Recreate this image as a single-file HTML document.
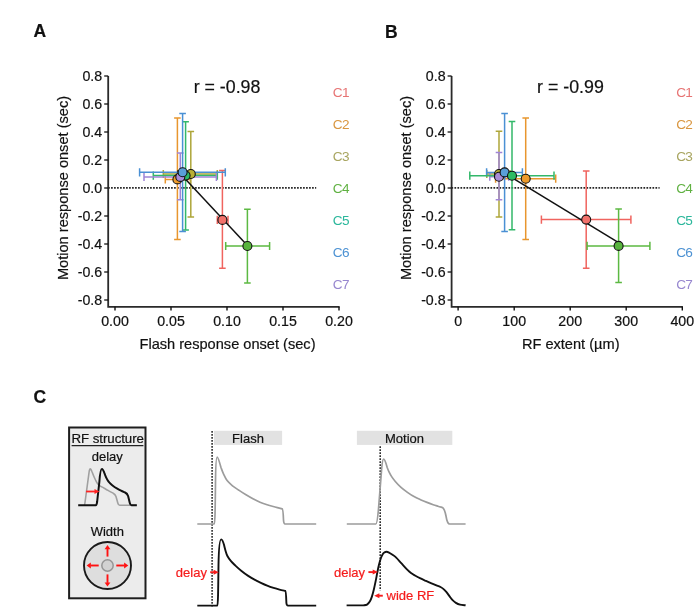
<!DOCTYPE html>
<html><head><meta charset="utf-8"><title>Figure</title><style>html,body{margin:0;padding:0;background:#fff;}svg{display:block;filter:blur(0.25px);}</style></head><body>
<svg width="700" height="613" viewBox="0 0 700 613">
<rect width="700" height="613" fill="#fff"/>
<g font-family='"Liberation Sans", sans-serif' fill="#111">
<text x="33.6" y="37.4" font-size="17.5" font-weight="bold" stroke="#111" stroke-width="0.2">A</text>
<text x="385" y="37.6" font-size="17.5" font-weight="bold" stroke="#111" stroke-width="0.2">B</text>
<text x="33.6" y="402.6" font-size="17.5" font-weight="bold" stroke="#111" stroke-width="0.2">C</text>
<path d="M108.2 76 V306.8 H339.6" fill="none" stroke="#2a2a2a" stroke-width="1.8"/>
<line x1="104.2" y1="76" x2="108.2" y2="76" stroke="#111" stroke-width="1.3"/>
<text x="102.2" y="81.3" text-anchor="end" font-size="14.2" stroke="#111" stroke-width="0.2">0.8</text>
<line x1="104.2" y1="104" x2="108.2" y2="104" stroke="#111" stroke-width="1.3"/>
<text x="102.2" y="109.3" text-anchor="end" font-size="14.2" stroke="#111" stroke-width="0.2">0.6</text>
<line x1="104.2" y1="132" x2="108.2" y2="132" stroke="#111" stroke-width="1.3"/>
<text x="102.2" y="137.3" text-anchor="end" font-size="14.2" stroke="#111" stroke-width="0.2">0.4</text>
<line x1="104.2" y1="160" x2="108.2" y2="160" stroke="#111" stroke-width="1.3"/>
<text x="102.2" y="165.3" text-anchor="end" font-size="14.2" stroke="#111" stroke-width="0.2">0.2</text>
<line x1="104.2" y1="188" x2="108.2" y2="188" stroke="#111" stroke-width="1.3"/>
<text x="102.2" y="193.3" text-anchor="end" font-size="14.2" stroke="#111" stroke-width="0.2">0.0</text>
<line x1="104.2" y1="216" x2="108.2" y2="216" stroke="#111" stroke-width="1.3"/>
<text x="102.2" y="221.3" text-anchor="end" font-size="14.2" stroke="#111" stroke-width="0.2">-0.2</text>
<line x1="104.2" y1="244" x2="108.2" y2="244" stroke="#111" stroke-width="1.3"/>
<text x="102.2" y="249.3" text-anchor="end" font-size="14.2" stroke="#111" stroke-width="0.2">-0.4</text>
<line x1="104.2" y1="272" x2="108.2" y2="272" stroke="#111" stroke-width="1.3"/>
<text x="102.2" y="277.3" text-anchor="end" font-size="14.2" stroke="#111" stroke-width="0.2">-0.6</text>
<line x1="104.2" y1="300" x2="108.2" y2="300" stroke="#111" stroke-width="1.3"/>
<text x="102.2" y="305.3" text-anchor="end" font-size="14.2" stroke="#111" stroke-width="0.2">-0.8</text>
<line x1="115" y1="306.8" x2="115" y2="310.5" stroke="#111" stroke-width="1.4"/>
<text x="115" y="325.8" text-anchor="middle" font-size="14.2" stroke="#111" stroke-width="0.2">0.00</text>
<line x1="171" y1="306.8" x2="171" y2="310.5" stroke="#111" stroke-width="1.4"/>
<text x="171" y="325.8" text-anchor="middle" font-size="14.2" stroke="#111" stroke-width="0.2">0.05</text>
<line x1="227" y1="306.8" x2="227" y2="310.5" stroke="#111" stroke-width="1.4"/>
<text x="227" y="325.8" text-anchor="middle" font-size="14.2" stroke="#111" stroke-width="0.2">0.10</text>
<line x1="283" y1="306.8" x2="283" y2="310.5" stroke="#111" stroke-width="1.4"/>
<text x="283" y="325.8" text-anchor="middle" font-size="14.2" stroke="#111" stroke-width="0.2">0.15</text>
<line x1="339" y1="306.8" x2="339" y2="310.5" stroke="#111" stroke-width="1.4"/>
<text x="339" y="325.8" text-anchor="middle" font-size="14.2" stroke="#111" stroke-width="0.2">0.20</text>
<line x1="108.05" y1="187.9" x2="316.2" y2="187.9" stroke="#262626" stroke-width="1.6" stroke-dasharray="1.7 1.3"/>
<text transform="translate(67.80000000000001 188) rotate(-90)" text-anchor="middle" font-size="14.6" stroke="#111" stroke-width="0.2">Motion response onset (sec)</text>
<text x="227.5" y="349.2" text-anchor="middle" font-size="14.6" stroke="#111" stroke-width="0.2">Flash response onset (sec)</text>
<text x="193.7" y="92.9" font-size="17.8" stroke="#111" stroke-width="0.2">r = -0.98</text>
<text x="332.8" y="96.90" font-size="13.6" fill="#e77474" letter-spacing="-0.7" stroke="#e77474" stroke-width="0.0">C1</text>
<text x="332.8" y="128.95" font-size="13.6" fill="#d99640" letter-spacing="-0.7" stroke="#d99640" stroke-width="0.0">C2</text>
<text x="332.8" y="161.00" font-size="13.6" fill="#a8a560" letter-spacing="-0.7" stroke="#a8a560" stroke-width="0.0">C3</text>
<text x="332.8" y="193.05" font-size="13.6" fill="#60b142" letter-spacing="-0.7" stroke="#60b142" stroke-width="0.0">C4</text>
<text x="332.8" y="225.10" font-size="13.6" fill="#2bb79b" letter-spacing="-0.7" stroke="#2bb79b" stroke-width="0.0">C5</text>
<text x="332.8" y="257.15" font-size="13.6" fill="#4d92d3" letter-spacing="-0.7" stroke="#4d92d3" stroke-width="0.0">C6</text>
<text x="332.8" y="289.20" font-size="13.6" fill="#9787cf" letter-spacing="-0.7" stroke="#9787cf" stroke-width="0.0">C7</text>
<path d="M451.6 76 V306.8 H682.9" fill="none" stroke="#2a2a2a" stroke-width="1.8"/>
<line x1="447.6" y1="76" x2="451.6" y2="76" stroke="#111" stroke-width="1.3"/>
<text x="445.6" y="81.3" text-anchor="end" font-size="14.2" stroke="#111" stroke-width="0.2">0.8</text>
<line x1="447.6" y1="104" x2="451.6" y2="104" stroke="#111" stroke-width="1.3"/>
<text x="445.6" y="109.3" text-anchor="end" font-size="14.2" stroke="#111" stroke-width="0.2">0.6</text>
<line x1="447.6" y1="132" x2="451.6" y2="132" stroke="#111" stroke-width="1.3"/>
<text x="445.6" y="137.3" text-anchor="end" font-size="14.2" stroke="#111" stroke-width="0.2">0.4</text>
<line x1="447.6" y1="160" x2="451.6" y2="160" stroke="#111" stroke-width="1.3"/>
<text x="445.6" y="165.3" text-anchor="end" font-size="14.2" stroke="#111" stroke-width="0.2">0.2</text>
<line x1="447.6" y1="188" x2="451.6" y2="188" stroke="#111" stroke-width="1.3"/>
<text x="445.6" y="193.3" text-anchor="end" font-size="14.2" stroke="#111" stroke-width="0.2">0.0</text>
<line x1="447.6" y1="216" x2="451.6" y2="216" stroke="#111" stroke-width="1.3"/>
<text x="445.6" y="221.3" text-anchor="end" font-size="14.2" stroke="#111" stroke-width="0.2">-0.2</text>
<line x1="447.6" y1="244" x2="451.6" y2="244" stroke="#111" stroke-width="1.3"/>
<text x="445.6" y="249.3" text-anchor="end" font-size="14.2" stroke="#111" stroke-width="0.2">-0.4</text>
<line x1="447.6" y1="272" x2="451.6" y2="272" stroke="#111" stroke-width="1.3"/>
<text x="445.6" y="277.3" text-anchor="end" font-size="14.2" stroke="#111" stroke-width="0.2">-0.6</text>
<line x1="447.6" y1="300" x2="451.6" y2="300" stroke="#111" stroke-width="1.3"/>
<text x="445.6" y="305.3" text-anchor="end" font-size="14.2" stroke="#111" stroke-width="0.2">-0.8</text>
<line x1="458.1" y1="306.8" x2="458.1" y2="310.5" stroke="#111" stroke-width="1.4"/>
<text x="458.1" y="325.8" text-anchor="middle" font-size="14.2" stroke="#111" stroke-width="0.2">0</text>
<line x1="514.2" y1="306.8" x2="514.2" y2="310.5" stroke="#111" stroke-width="1.4"/>
<text x="514.2" y="325.8" text-anchor="middle" font-size="14.2" stroke="#111" stroke-width="0.2">100</text>
<line x1="570.2" y1="306.8" x2="570.2" y2="310.5" stroke="#111" stroke-width="1.4"/>
<text x="570.2" y="325.8" text-anchor="middle" font-size="14.2" stroke="#111" stroke-width="0.2">200</text>
<line x1="626.2" y1="306.8" x2="626.2" y2="310.5" stroke="#111" stroke-width="1.4"/>
<text x="626.2" y="325.8" text-anchor="middle" font-size="14.2" stroke="#111" stroke-width="0.2">300</text>
<line x1="682.3" y1="306.8" x2="682.3" y2="310.5" stroke="#111" stroke-width="1.4"/>
<text x="682.3" y="325.8" text-anchor="middle" font-size="14.2" stroke="#111" stroke-width="0.2">400</text>
<line x1="451.45000000000005" y1="187.9" x2="659.6" y2="187.9" stroke="#262626" stroke-width="1.6" stroke-dasharray="1.7 1.3"/>
<text transform="translate(411.20000000000005 188) rotate(-90)" text-anchor="middle" font-size="14.6" stroke="#111" stroke-width="0.2">Motion response onset (sec)</text>
<text x="570.7" y="349.2" text-anchor="middle" font-size="14.6" stroke="#111" stroke-width="0.2">RF extent (µm)</text>
<text x="537.1" y="92.9" font-size="17.8" stroke="#111" stroke-width="0.2">r = -0.99</text>
<text x="676.2" y="96.90" font-size="13.6" fill="#e77474" letter-spacing="-0.7" stroke="#e77474" stroke-width="0.0">C1</text>
<text x="676.2" y="128.95" font-size="13.6" fill="#d99640" letter-spacing="-0.7" stroke="#d99640" stroke-width="0.0">C2</text>
<text x="676.2" y="161.00" font-size="13.6" fill="#a8a560" letter-spacing="-0.7" stroke="#a8a560" stroke-width="0.0">C3</text>
<text x="676.2" y="193.05" font-size="13.6" fill="#60b142" letter-spacing="-0.7" stroke="#60b142" stroke-width="0.0">C4</text>
<text x="676.2" y="225.10" font-size="13.6" fill="#2bb79b" letter-spacing="-0.7" stroke="#2bb79b" stroke-width="0.0">C5</text>
<text x="676.2" y="257.15" font-size="13.6" fill="#4d92d3" letter-spacing="-0.7" stroke="#4d92d3" stroke-width="0.0">C6</text>
<text x="676.2" y="289.20" font-size="13.6" fill="#9787cf" letter-spacing="-0.7" stroke="#9787cf" stroke-width="0.0">C7</text>
<path d="M222.4 170.5 V268.3 M219.1 170.5 H225.70000000000002 M219.1 268.3 H225.70000000000002 M217.3 219.9 H228.0 M217.3 215.8 V224.0 M228.0 215.8 V224.0" fill="none" stroke="#f0645f" stroke-width="1.5"/>
<path d="M177.4 118.0 V239.6 M174.1 118.0 H180.70000000000002 M174.1 239.6 H180.70000000000002 M165.3 179.4 H190.4 M165.3 175.3 V183.5 M190.4 175.3 V183.5" fill="none" stroke="#e8962e" stroke-width="1.5"/>
<path d="M190.8 131.5 V217.1 M187.5 131.5 H194.10000000000002 M187.5 217.1 H194.10000000000002 M163.3 174.0 H217.3 M163.3 169.9 V178.1 M217.3 169.9 V178.1" fill="none" stroke="#aea63a" stroke-width="1.5"/>
<path d="M247.4 209.3 V283.1 M244.1 209.3 H250.70000000000002 M244.1 283.1 H250.70000000000002 M225.7 246.0 H269.6 M225.7 241.9 V250.1 M269.6 241.9 V250.1" fill="none" stroke="#5cb942" stroke-width="1.5"/>
<path d="M185.6 121.7 V229.9 M182.29999999999998 121.7 H188.9 M182.29999999999998 229.9 H188.9 M153.3 175.6 H217.3 M153.3 171.5 V179.7 M217.3 171.5 V179.7" fill="none" stroke="#33b86a" stroke-width="1.5"/>
<path d="M180.3 153.0 V199.8 M177.0 153.0 H183.60000000000002 M177.0 199.8 H183.60000000000002 M144.0 176.9 H216.4 M144.0 172.8 V181.0 M216.4 172.8 V181.0" fill="none" stroke="#a085d6" stroke-width="1.5"/>
<path d="M182.6 113.6 V231.5 M179.29999999999998 113.6 H185.9 M179.29999999999998 231.5 H185.9 M139.6 172.3 H225.3 M139.6 168.20000000000002 V176.4 M225.3 168.20000000000002 V176.4" fill="none" stroke="#4a90d4" stroke-width="1.5"/>
<polyline points="177.4,170.6 247.4,245.5" fill="none" stroke="#111" stroke-width="1.5"/>
<circle cx="222.4" cy="219.9" r="4.5" fill="#f2716b" stroke="#111" stroke-width="1.1"/>
<circle cx="177.4" cy="179.4" r="4.5" fill="#ec9a2a" stroke="#111" stroke-width="1.1"/>
<circle cx="190.8" cy="174.0" r="4.5" fill="#b8af35" stroke="#111" stroke-width="1.1"/>
<circle cx="247.4" cy="246.0" r="4.5" fill="#58b43e" stroke="#111" stroke-width="1.1"/>
<circle cx="185.6" cy="175.6" r="4.5" fill="#2dbb63" stroke="#111" stroke-width="1.1"/>
<circle cx="180.3" cy="176.9" r="4.5" fill="#a98cd8" stroke="#111" stroke-width="1.1"/>
<circle cx="182.6" cy="172.3" r="4.5" fill="#5a9fd8" stroke="#111" stroke-width="1.1"/>
<path d="M586.2 171.0 V268.3 M582.9000000000001 171.0 H589.5 M582.9000000000001 268.3 H589.5 M541.4 219.6 H630.9 M541.4 215.5 V223.7 M630.9 215.5 V223.7" fill="none" stroke="#f0645f" stroke-width="1.5"/>
<path d="M525.7 117.9 V239.5 M522.4000000000001 117.9 H529.0 M522.4000000000001 239.5 H529.0 M495.6 178.7 H555.7 M495.6 174.6 V182.79999999999998 M555.7 174.6 V182.79999999999998" fill="none" stroke="#e8962e" stroke-width="1.5"/>
<path d="M499.0 131.3 V217.0 M495.7 131.3 H502.3 M495.7 217.0 H502.3 M486.8 174.0 H510.0 M486.8 169.9 V178.1 M510.0 169.9 V178.1" fill="none" stroke="#aea63a" stroke-width="1.5"/>
<path d="M618.6 208.9 V282.4 M615.3000000000001 208.9 H621.9 M615.3000000000001 282.4 H621.9 M587.1 245.9 H649.9 M587.1 241.8 V250.0 M649.9 241.8 V250.0" fill="none" stroke="#5cb942" stroke-width="1.5"/>
<path d="M499.0 152.6 V199.8 M495.7 152.6 H502.3 M495.7 199.8 H502.3 M489.8 176.7 H508.7 M489.8 172.6 V180.79999999999998 M508.7 172.6 V180.79999999999998" fill="none" stroke="#a085d6" stroke-width="1.5"/>
<path d="M504.6 113.5 V231.5 M501.3 113.5 H507.90000000000003 M501.3 231.5 H507.90000000000003 M486.6 172.4 H522.4 M486.6 168.3 V176.5 M522.4 168.3 V176.5" fill="none" stroke="#4a90d4" stroke-width="1.5"/>
<path d="M512.0 121.5 V229.7 M508.7 121.5 H515.3 M508.7 229.7 H515.3 M469.8 175.7 H554.0 M469.8 171.6 V179.79999999999998 M554.0 171.6 V179.79999999999998" fill="none" stroke="#33b86a" stroke-width="1.5"/>
<polyline points="499.0,169.7 618.6,242.6" fill="none" stroke="#111" stroke-width="1.5"/>
<circle cx="586.2" cy="219.6" r="4.5" fill="#f2716b" stroke="#111" stroke-width="1.1"/>
<circle cx="525.7" cy="178.7" r="4.5" fill="#ec9a2a" stroke="#111" stroke-width="1.1"/>
<circle cx="499.0" cy="174.0" r="4.5" fill="#b8af35" stroke="#111" stroke-width="1.1"/>
<circle cx="618.6" cy="245.9" r="4.5" fill="#58b43e" stroke="#111" stroke-width="1.1"/>
<circle cx="499.0" cy="176.7" r="4.5" fill="#a98cd8" stroke="#111" stroke-width="1.1"/>
<circle cx="504.6" cy="172.4" r="4.5" fill="#5a9fd8" stroke="#111" stroke-width="1.1"/>
<circle cx="512.0" cy="175.7" r="4.5" fill="#2dbb63" stroke="#111" stroke-width="1.1"/>
<rect x="69.1" y="427.5" width="76.4" height="170.8" fill="#ececec" stroke="#1e1e1e" stroke-width="2"/>
<text x="71.4" y="442.9" font-size="13.3" letter-spacing="-0.05" stroke="#111" stroke-width="0.2">RF structure</text>
<line x1="71.6" y1="445.6" x2="143.4" y2="445.6" stroke="#222" stroke-width="1.3"/>
<text x="107.3" y="460.8" font-size="13" text-anchor="middle" stroke="#111" stroke-width="0.2">delay</text>
<path d="M84 505.2 C84.6 505.2 84.8 504 85 502.5 L89.1 472 C89.4 469.8 89.8 468.9 90.3 468.9 C90.9 468.9 91.3 469.8 91.8 471.2 C92.10 471.97 92.98 474.33 93.60 475.80 C94.22 477.27 94.88 478.77 95.50 480.00 C96.12 481.23 96.55 482.23 97.30 483.20 C98.05 484.17 99.07 485.10 100.00 485.80 C100.93 486.50 101.57 486.63 102.90 487.40 C104.23 488.17 106.28 489.43 108.00 490.40 C109.72 491.37 112.33 492.73 113.20 493.20 C114.6 493.9 115.4 494.8 116 496.5 L117.8 503 C118.2 504.6 118.7 505.2 119.6 505.2 H137" fill="none" stroke="#a0a0a0" stroke-width="1.6"/>
<path d="M78.2 505.2 H95.8 C96.5 505.2 96.8 504 97.1 502 L99.4 481.5 C100 473 100.8 468.9 101.9 468.9 C102.9 468.9 103.8 471.2 104.8 474.2 C105.10 474.90 106.00 477.20 106.60 478.40 C107.20 479.60 107.78 480.55 108.40 481.40 C109.02 482.25 109.45 482.70 110.30 483.50 C111.15 484.30 112.42 485.40 113.50 486.20 C114.58 487.00 115.55 487.57 116.80 488.30 C118.05 489.03 119.62 489.90 121.00 490.60 C122.38 491.30 124.42 492.18 125.10 492.50 C126.6 493.2 127.5 494.2 128.1 496 L129.8 503 C130.2 504.6 130.6 505.2 131.4 505.2 H136.8" fill="none" stroke="#111" stroke-width="2"/>
<path d="M86.1 491.5 H95" stroke="#f22" stroke-width="1.8"/><path d="M99.4 491.5 L94.5 488.9 L94.5 494.1 Z" fill="#f22"/>
<text x="107.3" y="535.9" font-size="13" text-anchor="middle" stroke="#111" stroke-width="0.2">Width</text>
<circle cx="107.5" cy="565.5" r="23.5" fill="#dedede" stroke="#1a1a1a" stroke-width="1.9"/>
<circle cx="107.5" cy="565.5" r="5.7" fill="#d2d2d2" stroke="#959595" stroke-width="1.5"/>
<path d="M107.5 556.6 L107.50 548.70" stroke="#f11" stroke-width="1.9"/>
<path d="M107.5 545.0 L110.40 549.20 L104.60 549.20 Z" fill="#f11"/>
<path d="M107.5 574.4 L107.50 582.90" stroke="#f11" stroke-width="1.9"/>
<path d="M107.5 586.6 L104.60 582.40 L110.40 582.40 Z" fill="#f11"/>
<path d="M98.7 565.5 L90.30 565.50" stroke="#f11" stroke-width="1.9"/>
<path d="M86.6 565.5 L90.80 562.60 L90.80 568.40 Z" fill="#f11"/>
<path d="M116.3 565.5 L124.60 565.50" stroke="#f11" stroke-width="1.9"/>
<path d="M128.3 565.5 L124.10 568.40 L124.10 562.60 Z" fill="#f11"/>
<rect x="214" y="430.8" width="68.1" height="14.1" fill="#e2e2e2"/>
<text x="248" y="443.1" font-size="13" text-anchor="middle" stroke="#111" stroke-width="0.2">Flash</text>
<rect x="356.9" y="430.8" width="95.4" height="14.1" fill="#e2e2e2"/>
<text x="404.5" y="443.1" font-size="13" text-anchor="middle" stroke="#111" stroke-width="0.2">Motion</text>
<line x1="212.1" y1="431" x2="212.1" y2="606.5" stroke="#222" stroke-width="1.5" stroke-dasharray="1.7 1.3"/>
<line x1="380.2" y1="446.3" x2="380.2" y2="590.6" stroke="#222" stroke-width="1.5" stroke-dasharray="1.7 1.3"/>
<path d="M197.3 524 H214.3 C215 524 215.2 510 215.5 482 C215.7 464 216.3 457.1 217.2 457.1 C218.2 457.1 219.5 462 220.9 467.3 C221.35 468.45 222.57 471.98 223.60 474.20 C224.63 476.42 225.62 478.67 227.10 480.60 C228.58 482.53 230.58 484.23 232.50 485.80 C234.42 487.37 236.35 488.50 238.60 490.00 C240.85 491.50 243.53 493.30 246.00 494.80 C248.47 496.30 251.07 497.77 253.40 499.00 C255.73 500.23 257.72 501.23 260.00 502.20 C262.28 503.17 264.60 504.00 267.10 504.80 C269.60 505.60 272.48 506.32 275.00 507.00 C277.52 507.68 281.00 508.58 282.20 508.90 C283.1 509.3 283.3 515 283.5 520 C283.7 523.4 284 524 285 524 H316.2" fill="none" stroke="#9c9c9c" stroke-width="1.7"/>
<path d="M197.3 605.6 H217.4 C218 605.6 218.2 590 218.5 565 C218.8 548 219.6 539.4 221.2 539.4 C222.3 539.4 223.1 541.6 224 544.8 C224.27 545.83 225.03 549.13 225.60 551.00 C226.17 552.87 226.50 554.30 227.40 556.00 C228.30 557.70 229.67 559.60 231.00 561.20 C232.33 562.80 233.65 563.97 235.40 565.60 C237.15 567.23 239.37 569.28 241.50 571.00 C243.63 572.72 246.03 574.47 248.20 575.90 C250.37 577.33 252.38 578.45 254.50 579.60 C256.62 580.75 258.78 581.80 260.90 582.80 C263.02 583.80 265.08 584.75 267.20 585.60 C269.32 586.45 271.55 587.23 273.60 587.90 C275.65 588.57 277.55 589.10 279.50 589.60 C281.45 590.10 284.33 590.68 285.30 590.90 C286 591.3 286.2 598 286.4 603 C286.6 605.2 287 605.6 288 605.6 H316.2" fill="none" stroke="#111" stroke-width="1.9"/>
<path d="M346.8 524 H375.8 C377 524 377.6 519 378.4 510 C379.4 498 380.6 482 381.6 469.4 C382.2 462 382.8 459.1 383.6 459.1 C384.8 459.1 386 463 387.2 467.5 C387.48 468.18 388.18 470.12 388.90 471.60 C389.62 473.08 390.47 474.80 391.50 476.40 C392.53 478.00 393.52 479.37 395.10 481.20 C396.68 483.03 398.88 485.50 401.00 487.40 C403.12 489.30 405.63 491.07 407.80 492.60 C409.97 494.13 411.88 495.42 414.00 496.60 C416.12 497.78 418.33 498.73 420.50 499.70 C422.67 500.67 424.88 501.57 427.00 502.40 C429.12 503.23 431.37 504.07 433.20 504.70 C435.03 505.33 436.52 505.75 438.00 506.20 C439.48 506.65 441.42 507.20 442.10 507.40 C444.2 508 445 511 446 516 C446.8 521 447.5 524 449.6 524 H465.6" fill="none" stroke="#9c9c9c" stroke-width="1.7"/>
<path d="M346.6 605.4 H363.5 C364.08 605.27 365.95 605.23 367.00 604.60 C368.05 603.97 368.98 602.93 369.80 601.60 C370.62 600.27 371.22 598.67 371.90 596.60 C372.58 594.53 373.27 591.82 373.90 589.20 C374.53 586.58 375.13 583.68 375.70 580.90 C376.27 578.12 376.77 575.15 377.30 572.50 C377.83 569.85 378.35 567.25 378.90 565.00 C379.45 562.75 380.03 560.67 380.60 559.00 C381.17 557.33 381.68 556.07 382.30 555.00 C382.92 553.93 383.58 553.13 384.30 552.60 C385.02 552.07 385.82 551.80 386.60 551.80 C387.38 551.80 388.02 552.10 389.00 552.60 C389.98 553.10 391.30 553.97 392.50 554.80 C393.70 555.63 394.70 556.17 396.20 557.60 C397.70 559.03 399.67 561.40 401.50 563.40 C403.33 565.40 405.62 568.00 407.20 569.60 C408.78 571.20 409.70 572.02 411.00 573.00 C412.30 573.98 413.42 574.60 415.00 575.50 C416.58 576.40 418.67 577.50 420.50 578.40 C422.33 579.30 424.17 580.08 426.00 580.90 C427.83 581.72 429.67 582.52 431.50 583.30 C433.33 584.08 435.50 584.98 437.00 585.60 C438.50 586.22 439.45 586.45 440.50 587.00 C441.55 587.55 442.30 588.03 443.30 588.90 C444.30 589.77 445.45 590.95 446.50 592.20 C447.55 593.45 448.58 595.07 449.60 596.40 C450.62 597.73 451.55 599.12 452.60 600.20 C453.65 601.28 454.67 602.15 455.90 602.90 C457.13 603.65 458.38 604.30 460.00 604.70 C461.62 605.10 464.67 605.20 465.60 605.30" fill="none" stroke="#111" stroke-width="1.9"/>
<text x="175.8" y="576.6" font-size="13" fill="#f51c1c" stroke="#f51c1c" stroke-width="0.2">delay</text>
<path d="M210.2 572.2 H214.20" stroke="#f51c1c" stroke-width="1.9"/><path d="M218.8 572.2 L213.60 569.70 L213.60 574.70 Z" fill="#f51c1c"/>
<text x="334" y="576.6" font-size="13" fill="#f51c1c" stroke="#f51c1c" stroke-width="0.2">delay</text>
<path d="M368.4 572.1 H373.30" stroke="#f51c1c" stroke-width="1.9"/><path d="M377.9 572.1 L372.70 569.60 L372.70 574.60 Z" fill="#f51c1c"/>
<text x="386.6" y="600.4" font-size="13" fill="#f51c1c" stroke="#f51c1c" stroke-width="0.2">wide RF</text>
<path d="M382.8 595.7 H378.80" stroke="#f51c1c" stroke-width="1.9"/><path d="M374.2 595.7 L379.40 593.20 L379.40 598.20 Z" fill="#f51c1c"/>
</g></svg>
</body></html>
